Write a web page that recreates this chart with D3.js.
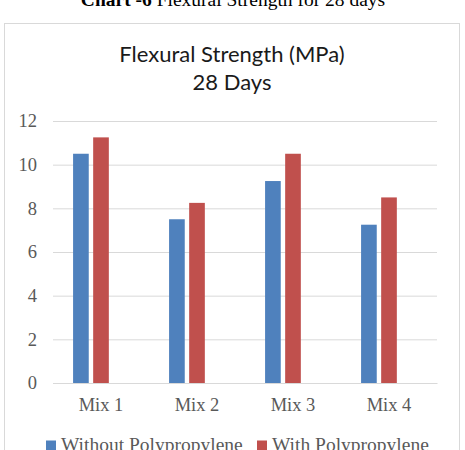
<!DOCTYPE html>
<html>
<head>
<meta charset="utf-8">
<script src="https://cdn.jsdelivr.net/npm/d3@7"></script>
<style>
  body { margin: 0; background: #fff; }
  svg { display: block; }
</style>
</head>
<body>
<div id="chart"></div>
<script>
// chart data
const mixes = ['Mix 1', 'Mix 2', 'Mix 3', 'Mix 4'];
const seriesNames = ['Without Polypropylene', 'With Polypropylene'];
const withoutPP = [10.5, 7.5, 9.25, 7.25];
const withPP = [11.25, 8.25, 10.5, 8.5];
const yTicks = [0, 2, 4, 6, 8, 10, 12];
const colors = ['#4F81BD', '#C0504D'];

const width = 465, height = 450;
const plot = { left: 53, right: 437, top: 121, bottom: 383 };

const svg = d3.select('#chart')
    .append('svg')
    .attr('width', width)
    .attr('height', height);

// page caption (cut off at the top, as in the source)
const cap = svg.append('text')
    .attr('x', 233)
    .attr('y', 6)
    .attr('text-anchor', 'middle')
    .style('font-family', '"Liberation Serif", serif')
    .style('font-size', '19.5px')
    .attr('fill', '#000');
cap.append('tspan').style('font-weight', 'bold').text('Chart -6');
cap.append('tspan').text(' Flexural Strength for 28 days');

// chart frame
svg.append('rect')
    .attr('x', 4.5)
    .attr('y', 23.5)
    .attr('width', 455)
    .attr('height', 440)
    .attr('fill', '#fff')
    .attr('stroke', '#d9d9d9');

// title
const title = svg.append('g')
    .style('font-family', 'Lato, "Open Sans", sans-serif')
    .style('font-size', '22px')
    .attr('fill', '#1a1a1a')
    .attr('text-anchor', 'middle');
title.append('text').attr('x', 232).attr('y', 62).text('Flexural Strength (MPa)');
title.append('text').attr('x', 232).attr('y', 90).text('28 Days');

const x0 = d3.scaleBand()
    .domain(mixes)
    .range([plot.left, plot.right]);

// three slots per category, the third one stays empty as in the source
const x1 = d3.scaleBand()
    .domain([0, 1, 2])
    .range([0, x0.bandwidth()])
    .paddingInner(0.22)
    .paddingOuter(1.0);

const y = d3.scaleLinear()
    .domain([0, 12])
    .range([plot.bottom, plot.top]);

// gridlines + y labels
const yAxis = d3.axisLeft(y)
    .tickValues(yTicks)
    .tickSize(-(plot.right - plot.left))
    .tickPadding(16);

const yg = svg.append('g')
    .attr('transform', `translate(${plot.left},0)`)
    .call(yAxis);
yg.select('.domain').remove();
yg.selectAll('.tick line').attr('stroke', '#d9d9d9').attr('stroke-width', 1);
yg.selectAll('.tick text')
    .attr('fill', '#595959')
    .style('font-family', '"Liberation Serif", serif')
    .style('font-size', '18.5px');

// bars
const values = [withoutPP, withPP];
values.forEach((vals, s) => {
    svg.append('g')
        .selectAll('rect')
        .data(mixes)
        .enter()
        .append('rect')
        .attr('x', (d) => x0(d) + x1(s))
        .attr('width', x1.bandwidth())
        .attr('y', (d, i) => y(vals[i]))
        .attr('height', (d, i) => y(0) - y(vals[i]))
        .attr('fill', colors[s]);
});

// x axis
const xAxis = d3.axisBottom(x0).tickSize(0).tickPadding(15);
const xg = svg.append('g')
    .attr('transform', `translate(0,${plot.bottom})`)
    .call(xAxis);
xg.select('.domain').attr('stroke', '#d9d9d9');
xg.selectAll('.tick text')
    .attr('fill', '#595959')
    .style('font-family', '"Liberation Serif", serif')
    .style('font-size', '18.5px');

// legend
const legendX = [46, 257];
const legend = svg.append('g')
    .style('font-family', '"Liberation Serif", serif')
    .style('font-size', '19.5px');
seriesNames.forEach((name, i) => {
    legend.append('rect')
        .attr('x', legendX[i])
        .attr('y', 440.5)
        .attr('width', 10)
        .attr('height', 10)
        .attr('fill', colors[i]);
    legend.append('text')
        .attr('x', legendX[i] + 15)
        .attr('y', 451)
        .attr('fill', '#595959')
        .text(name);
});
</script>
</body>
</html>
